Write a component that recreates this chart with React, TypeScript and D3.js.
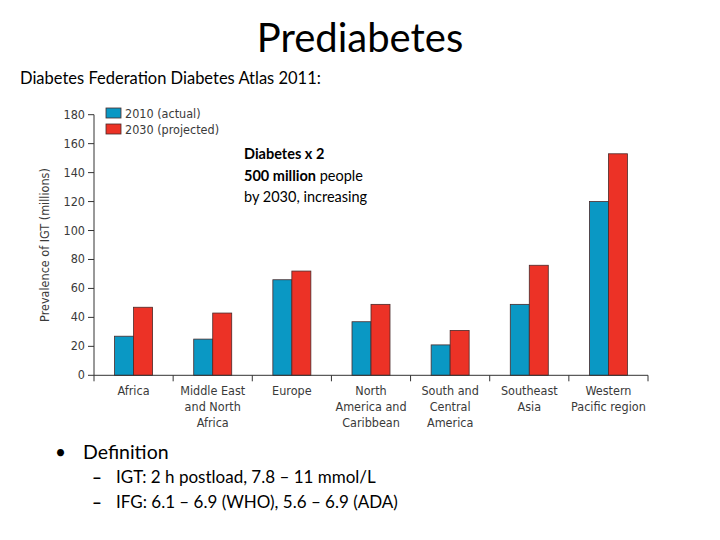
import React from "react";
import * as d3 from "d3";

const categories: string[][] = [
  ["Africa"],
  ["Middle East", "and North", "Africa"],
  ["Europe"],
  ["North", "America and", "Caribbean"],
  ["South and", "Central", "America"],
  ["Southeast", "Asia"],
  ["Western", "Pacific region"],
];
const values2010 = [27, 25, 66, 37, 21, 49, 120];
const values2030 = [47, 43, 72, 49, 31, 76, 153];
const yTicks = [0, 20, 40, 60, 80, 100, 120, 140, 160, 180];
const seriesNames = ["2010 (actual)", "2030 (projected)"];
const seriesColors = ["#0a98c4", "#ec3226"];

const W = 720, H = 540;
const axisFont = "'Liberation Sans Narrow', 'DejaVu Sans Condensed', 'Open Sans', sans-serif";
const textFont = "Lato, 'Open Sans', sans-serif";

export default function App() {
  const x0 = 94, x1 = 648, yBase = 375.3, yTop = 114.7;
  const band = d3.scaleBand<number>().domain(categories.map((_, i) => i)).range([x0, x1]).paddingInner(0).paddingOuter(0);
  const inner = d3.scaleBand<number>().domain([0, 1]).range([0, 38]);
  const y = d3.scaleLinear().domain([0, 180]).range([yBase, yTop]);
  const offset = (band.bandwidth() - 38) / 2;
  const series = [values2010, values2030];
  const tickXs = d3.range(categories.length + 1).map((i) => x0 + i * band.step());

  return (
    <svg width={W} height={H} style={{ position: "absolute", left: 0, top: 0, background: "#fff" }}>
      <text x={360} y={52} textAnchor="middle" fontFamily={textFont} fontSize={40} fill="#000">Prediabetes</text>
      <text x={20} y={84} fontFamily={textFont} fontSize={16.5} fill="#000">Diabetes Federation Diabetes Atlas 2011:</text>

      {/* y axis */}
      <line x1={x0} x2={x0} y1={y(180)} y2={yBase} stroke="#333" strokeWidth={1} />
      {yTicks.map((t) => (
        <g key={t}>
          <line x1={x0 - 6} x2={x0} y1={y(t)} y2={y(t)} stroke="#333" />
          <text x={x0 - 9} y={y(t) + 4} textAnchor="end" fontFamily={axisFont} fontSize={12.5} fill="#3a3a3a">{t}</text>
        </g>
      ))}
      <text transform={`translate(49,245) rotate(-90)`} textAnchor="middle" fontFamily={axisFont} fontSize={12.5} fill="#3a3a3a">Prevalence of IGT (millions)</text>

      {/* bars */}
      {categories.map((_, i) =>
        series.map((vals, s) => (
          <rect key={`${i}-${s}`} x={(band(i) as number) + offset + (inner(s) as number)} y={y(vals[i])}
            width={inner.bandwidth()} height={yBase - y(vals[i])} fill={seriesColors[s]} stroke="#4a2a2a" strokeWidth={0.8} />
        ))
      )}

      {/* x axis */}
      <line x1={x0} x2={x1} y1={yBase} y2={yBase} stroke="#333" />
      {tickXs.map((tx, i) => (
        <line key={i} x1={tx} x2={tx} y1={yBase} y2={yBase + 6} stroke="#333" />
      ))}
      {categories.map((lines, i) => (
        <text key={i} textAnchor="middle" fontFamily={axisFont} fontSize={12.5} fill="#3a3a3a">
          {lines.map((l, j) => (
            <tspan key={j} x={(band(i) as number) + band.bandwidth() / 2} y={395 + j * 16}>{l}</tspan>
          ))}
        </text>
      ))}

      {/* legend */}
      {seriesNames.map((n, s) => (
        <g key={n}>
          <rect x={106} y={108 + s * 16} width={15} height={10} fill={seriesColors[s]} stroke="#4a2a2a" strokeWidth={0.8} />
          <text x={125} y={117.5 + s * 16} fontFamily={axisFont} fontSize={12.5} fill="#3a3a3a">{n}</text>
        </g>
      ))}

      {/* annotation */}
      <g fontFamily={textFont} fontSize={14.5} fill="#000">
        <text x={244} y={159} fontWeight="bold">Diabetes x 2</text>
        <text x={244} y={181}><tspan fontWeight="bold">500 million</tspan> people</text>
        <text x={244} y={202}>by 2030, increasing</text>
      </g>

      {/* bullets */}
      <g fontFamily={textFont} fill="#000">
        <text x={55} y={459} fontSize={19}>•</text>
        <text x={83} y={459} fontSize={19.5}>Definition</text>
        <text x={92} y={483} fontSize={17} fontWeight="bold">–</text>
        <text x={116} y={483} fontSize={17}>IGT: 2 h postload, 7.8 – 11 mmol/L</text>
        <text x={92} y={508} fontSize={17} fontWeight="bold">–</text>
        <text x={116} y={508} fontSize={17}>IFG: 6.1 – 6.9 (WHO), 5.6 – 6.9 (ADA)</text>
      </g>
    </svg>
  );
}
